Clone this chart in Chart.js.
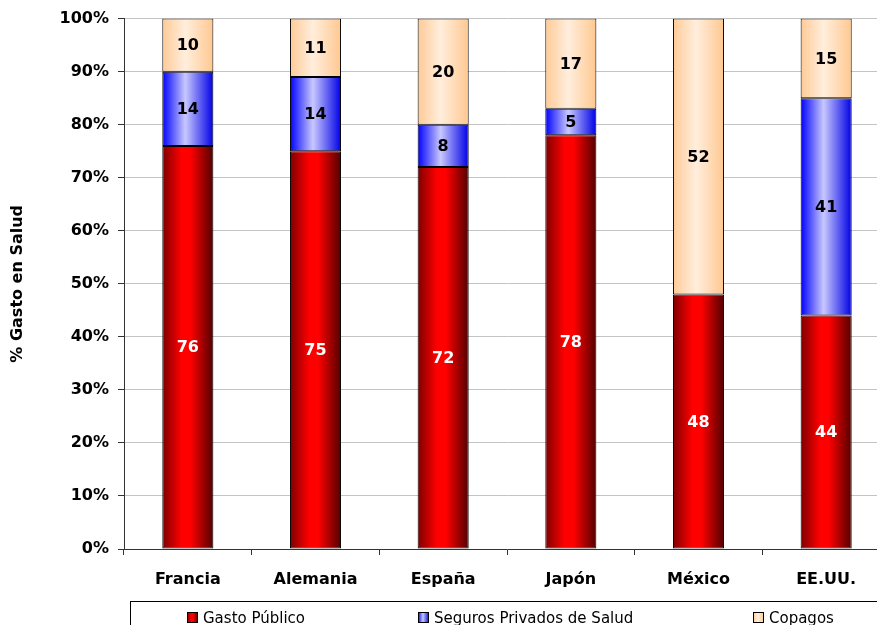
<!DOCTYPE html>
<html>
<head>
<meta charset="utf-8">
<script src="https://cdn.jsdelivr.net/npm/chart.js@4"></script>
<style>
  html, body { margin: 0; padding: 0; overflow: hidden; background: #fff; }
</style>
</head>
<body>
<canvas id="chart" width="895" height="625"></canvas>
<script>
const paises = ['Francia', 'Alemania', 'España', 'Japón', 'México', 'EE.UU.'];
const gastoPublico = [76, 75, 72, 78, 48, 44];
const segurosPrivados = [14, 14, 8, 5, 0, 41];
const copagos = [10, 11, 20, 17, 52, 15];
const yTickValues = [0, 10, 20, 30, 40, 50, 60, 70, 80, 90, 100];

Chart.defaults.font.family = '"DejaVu Sans", Verdana, sans-serif';
Chart.defaults.color = '#000';

const BAR_SHARE = 0.4;

// horizontal gradient across each bar, like the old Excel fill
function barFill(stops) {
  return (ctx) => {
    const chart = ctx.chart;
    const xs = chart.scales.x;
    if (!chart.chartArea || !xs || ctx.dataIndex === undefined) return stops[1][1];
    const cx = xs.getPixelForValue(ctx.dataIndex);
    const half = xs.width / paises.length * BAR_SHARE / 2;
    const g = chart.ctx.createLinearGradient(cx - half, 0, cx + half, 0);
    stops.forEach(s => g.addColorStop(s[0], s[1]));
    return g;
  };
}

const redStops = [[0, '#7e0000'], [0.38, '#ff0000'], [0.55, '#ff0000'], [1, '#520000']];
const blueStops = [[0, '#0000ff'], [0.45, '#c8c8ff'], [1, '#0000e6']];
const peachStops = [[0, '#ffca96'], [0.45, '#ffeedd'], [1, '#ffc890']];

function swatchFill(c, x, w, stops) {
  const g = c.createLinearGradient(x, 0, x + w, 0);
  stops.forEach(s => g.addColorStop(s[0], s[1]));
  return g;
}

const valueLabels = {
  id: 'valueLabels',
  afterDatasetsDraw(chart) {
    const c = chart.ctx;
    c.save();
    c.font = 'bold 16px "DejaVu Sans"';
    c.textAlign = 'center';
    c.textBaseline = 'middle';
    chart.data.datasets.forEach((ds, i) => {
      chart.getDatasetMeta(i).data.forEach((bar, j) => {
        const v = ds.data[j];
        if (!v) return;
        c.fillStyle = i === 0 ? '#fff' : '#000';
        c.fillText(v, bar.x, (bar.y + bar.base) / 2 + 1);
      });
    });
    c.restore();
  }
};

const boxLegend = {
  id: 'boxLegend',
  afterDraw(chart) {
    const c = chart.ctx;
    const stops = [redStops, blueStops, peachStops];
    const swatchX = [187, 418, 753];
    c.save();
    c.strokeStyle = '#000';
    c.lineWidth = 1;
    c.strokeRect(130.5, 601.5, 900, 60);
    c.font = '15px "DejaVu Sans"';
    c.textBaseline = 'alphabetic';
    c.textAlign = 'left';
    chart.data.datasets.forEach((ds, i) => {
      const x = swatchX[i];
      c.fillStyle = swatchFill(c, x, 11, stops[i]);
      c.fillRect(x, 612, 11, 11);
      c.strokeStyle = '#000';
      c.strokeRect(x + 0.5, 612.5, 10, 10);
      c.fillStyle = '#000';
      c.fillText(ds.label, x + 16, 623);
    });
    c.restore();
  }
};

new Chart(document.getElementById('chart'), {
  type: 'bar',
  data: {
    labels: paises,
    datasets: [
      {
        label: 'Gasto Público',
        data: gastoPublico,
        backgroundColor: barFill(redStops),
      },
      {
        label: 'Seguros Privados de Salud',
        data: segurosPrivados,
        backgroundColor: barFill(blueStops),
      },
      {
        label: 'Copagos',
        data: copagos,
        backgroundColor: barFill(peachStops),
      },
    ],
  },
  options: {
    responsive: false,
    animation: false,
    devicePixelRatio: 1,
    layout: { padding: { top: 18, right: 5, bottom: 0, left: 0 } },
    datasets: {
      bar: {
        categoryPercentage: 1,
        barPercentage: BAR_SHARE,
        borderColor: '#000',
        borderWidth: 1,
        borderSkipped: false,
      },
    },
    plugins: {
      legend: { display: false },
      tooltip: { enabled: false },
    },
    scales: {
      x: {
        stacked: true,
        grid: { display: true, drawOnChartArea: false, offset: true, tickLength: 6, color: '#333' },
        border: { color: '#333' },
        ticks: { font: { size: 16, weight: 'bold' }, padding: 15, maxRotation: 0 },
        afterFit(s) { s.height = 76; },
      },
      y: {
        stacked: true,
        min: 0,
        max: 100,
        afterBuildTicks(s) { s.ticks = yTickValues.map(v => ({ value: v })); },
        ticks: {
          font: { size: 16, weight: 'bold' },
          padding: 9,
          callback: v => v + '%',
        },
        grid: { color: '#c4c4c4', tickColor: '#333', tickLength: 6 },
        border: { color: '#333' },
        title: {
          display: true,
          text: '% Gasto en Salud',
          font: { size: 16, weight: 'bold' },
          padding: { top: 8, bottom: 0 },
        },
        afterFit(s) { s.width = 124; },
      },
    },
  },
  plugins: [valueLabels, boxLegend],
});
</script>
</body>
</html>
